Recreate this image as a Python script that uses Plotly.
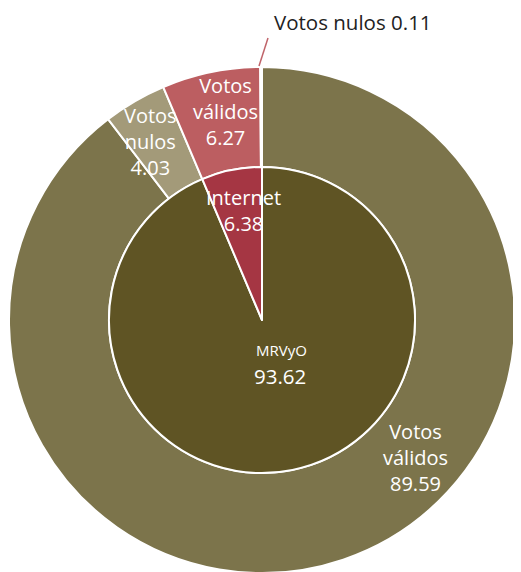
import plotly.graph_objects as go

inner_labels = ["MRVyO", "Internet"]
inner_values = [93.62, 6.38]
inner_colors = ["#5F5424", "#A53643"]

outer_labels = ["Votos válidos", "Votos nulos", "Votos válidos", "Votos nulos"]
outer_parents = ["MRVyO", "MRVyO", "Internet", "Internet"]
outer_values = [89.59, 4.03, 6.27, 0.11]
outer_colors = ["#7C744B", "#A39A79", "#BC5E61", "#C98285"]

W, H = 521, 572
OFF = 8  # page body margin offset


def px(x):
    return (x - OFF) / W


def py(y):
    return 1 - (y - OFF) / H


cx, cy, R_out, R_in = 262, 320, 253, 153

fig = go.Figure()
fig.add_trace(go.Pie(
    labels=[f"{p} {l}" for p, l in zip(outer_parents, outer_labels)],
    values=outer_values, sort=False, direction="clockwise", rotation=0,
    hole=R_in / R_out, textinfo="none", hoverinfo="label+value",
    marker=dict(colors=outer_colors, line=dict(color="white", width=2)),
    domain=dict(x=[px(cx - R_out), px(cx + R_out)], y=[max(0, py(cy + R_out)), py(cy - R_out)]),
    showlegend=False,
))
fig.add_trace(go.Pie(
    labels=inner_labels, values=inner_values, sort=False, direction="clockwise",
    rotation=0, textinfo="none", hoverinfo="label+value",
    marker=dict(colors=inner_colors, line=dict(color="white", width=2)),
    domain=dict(x=[px(cx - R_in), px(cx + R_in)], y=[py(cy + R_in), py(cy - R_in)]),
    showlegend=False,
))

font = "Open Sans"
SZ = 20


def label(x, y, text, size=SZ, color="white"):
    return dict(x=px(x), y=py(y), xref="paper", yref="paper", text=text,
                showarrow=False, xanchor="center", yanchor="middle", align="center",
                font=dict(family=font, size=size, color=color))


def fmt(v):
    return f"{v:.2f}"


def wrap(lbl):
    return lbl.replace(" ", "<br>")


annotations = [
    label(281, 350, inner_labels[0], size=15),
    label(280, 376, fmt(inner_values[0]), size=20.5),
    label(243, 210, f"{inner_labels[1]}<br>{fmt(inner_values[1])}"),
    label(415, 457, f"{wrap(outer_labels[0])}<br>{fmt(outer_values[0])}"),
    label(150, 141, f"{wrap(outer_labels[1])}<br>{fmt(outer_values[1])}"),
    label(225, 111, f"{wrap(outer_labels[2])}<br>{fmt(outer_values[2])}"),
    dict(x=px(272), y=py(22), xref="paper", yref="paper",
         text=f"{outer_labels[3]} {fmt(outer_values[3])}", showarrow=False,
         xanchor="left", yanchor="middle",
         font=dict(family=font, size=20.5, color="#222222")),
]

fig.update_layout(
    width=W, height=H, margin=dict(l=0, r=0, t=0, b=0),
    paper_bgcolor="white", plot_bgcolor="white",
    annotations=annotations,
    shapes=[dict(type="line", xref="paper", yref="paper",
                 x0=px(259), y0=py(66), x1=px(268), y1=py(38),
                 line=dict(color="#C0646A", width=1.5))],
)

fig.write_html("out.html")
